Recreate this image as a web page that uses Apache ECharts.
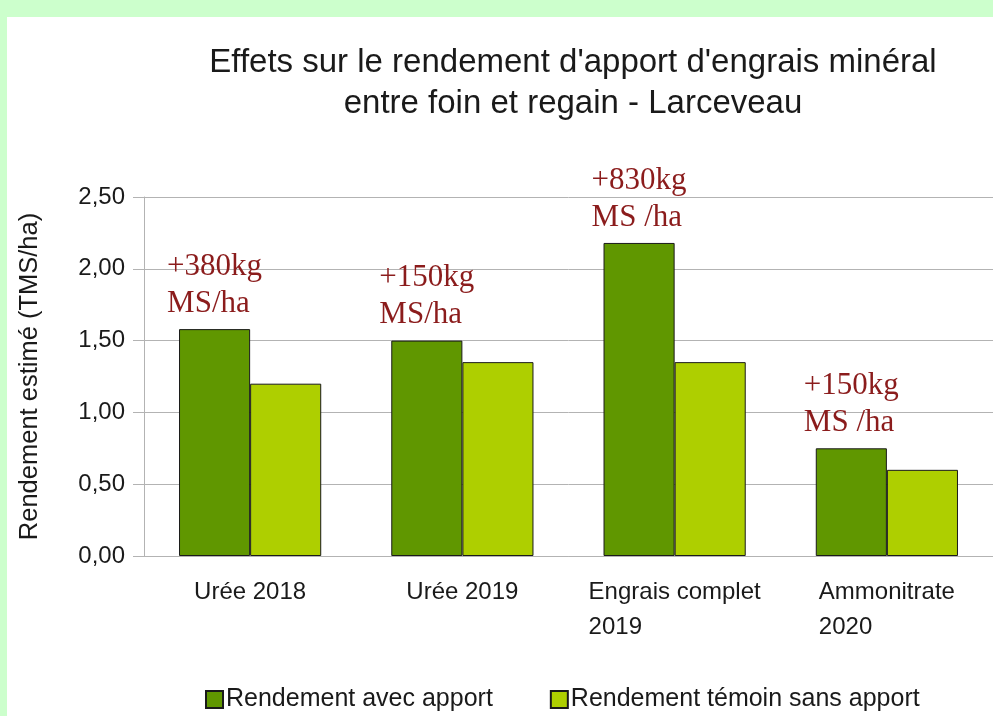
<!DOCTYPE html>
<html>
<head>
<meta charset="utf-8">
<script src="https://cdn.jsdelivr.net/npm/echarts@6/dist/echarts.min.js"></script>
<style>
  html, body { margin: 0; padding: 0; background: #ccffcc; }
  #chart { position: absolute; left: 7px; top: 17px; width: 986px; height: 699px; background: #fff; }
</style>
</head>
<body>
<div id="chart"></div>
<script>
// données
const categories = ['Urée 2018', 'Urée 2019', 'Engrais complet\n2019', 'Ammonitrate\n2020']
const avecApport = [1.58, 1.50, 2.18, 0.75]
const temoin = [1.20, 1.35, 1.35, 0.60]
const annotations = ['+380kg\nMS/ha', '+150kg\nMS/ha', '+830kg\nMS /ha', '+150kg\nMS /ha']
const yTicks = [0, 0.5, 1, 1.5, 2, 2.5]

const SANS = '"Liberation Sans", Arial, sans-serif'
const SERIF = '"Liberation Serif", "Times New Roman", serif'

// lignes alignées à gauche dans un bloc centré
const leftLines = (text, key) =>
  text.split('\n').map(s => '{' + key + '|' + s + '}').join('\n')

const chart = echarts.init(document.getElementById('chart'))

const option = {
  animation: false,
  backgroundColor: '#ffffff',
  title: {
    text: "Effets sur le rendement d'apport d'engrais minéral\nentre foin et regain - Larceveau",
    left: 566,
    top: 25,
    padding: 0,
    textAlign: 'center',
    textStyle: {
      fontFamily: SANS,
      fontSize: 33,
      fontWeight: 'normal',
      color: '#1a1a1a',
      lineHeight: 41
    }
  },
  legend: {
    left: 193,
    top: 665,
    itemWidth: 17,
    itemHeight: 17,
    itemGap: 57,
    icon: 'rect',
    textStyle: {
      fontFamily: SANS,
      fontSize: 25,
      color: '#1a1a1a',
      padding: [0, 0, 0, -2]
    }
  },
  grid: {
    left: 137,
    top: 180,
    width: 852,
    height: 359
  },
  xAxis: {
    type: 'category',
    data: categories,
    axisLine: { lineStyle: { color: '#b3b3b3', width: 1 } },
    axisTick: { length: 10, lineStyle: { color: '#b3b3b3' } },
    axisLabel: {
      margin: 19,
      formatter: v => leftLines(v, 'c'),
      rich: {
        c: {
          width: '100%',
          align: 'left',
          fontFamily: SANS,
          fontSize: 24,
          lineHeight: 35,
          color: '#1a1a1a'
        }
      }
    }
  },
  yAxis: {
    type: 'value',
    min: yTicks[0],
    max: yTicks[yTicks.length - 1],
    interval: 0.5,
    name: 'Rendement estimé (TMS/ha)',
    nameLocation: 'middle',
    nameGap: 101,
    nameTextStyle: {
      fontFamily: SANS,
      fontSize: 25.5,
      color: '#1a1a1a'
    },
    axisLine: { show: true, lineStyle: { color: '#b3b3b3', width: 1 } },
    axisTick: { show: true, length: 11, lineStyle: { color: '#b3b3b3' } },
    splitLine: { lineStyle: { color: '#b3b3b3', width: 1 } },
    axisLabel: {
      margin: 19,
      fontFamily: SANS,
      fontSize: 24,
      color: '#1a1a1a',
      formatter: v => v.toFixed(2).replace('.', ',')
    }
  },
  series: [
    {
      name: 'Rendement avec apport',
      type: 'bar',
      data: avecApport,
      barGap: '0%',
      barCategoryGap: '33%',
      itemStyle: { color: '#609700', borderColor: '#1a1a1a', borderWidth: 1 },
      label: {
        show: true,
        position: 'top',
        distance: 7,
        formatter: p => leftLines(annotations[p.dataIndex], 'a'),
        rich: {
          a: {
            width: '100%',
            align: 'left',
            fontFamily: SERIF,
            fontSize: 31,
            lineHeight: 37,
            color: '#8b1c1c'
          }
        }
      }
    },
    {
      name: 'Rendement témoin sans apport',
      type: 'bar',
      data: temoin,
      itemStyle: { color: '#aecf00', borderColor: '#1a1a1a', borderWidth: 1 }
    }
  ]
}

chart.setOption(option)
</script>
</body>
</html>
